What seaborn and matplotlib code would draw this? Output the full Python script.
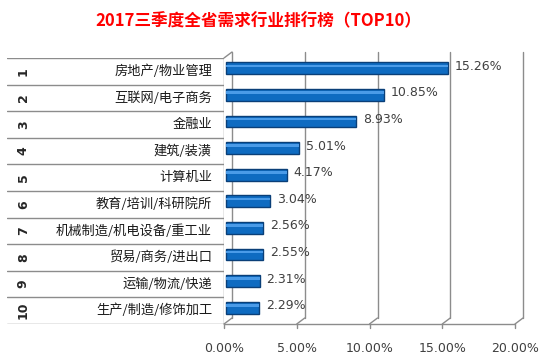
import matplotlib
matplotlib.use("Agg")
import matplotlib.pyplot as plt
import matplotlib.transforms as mtransforms
import pandas as pd
import seaborn as sns

# data
ranks = ['1', '2', '3', '4', '5', '6', '7', '8', '9', '10']
industries = ['房地产/物业管理', '互联网/电子商务', '金融业', '建筑/装潢', '计算机业',
              '教育/培训/科研院所', '机械制造/机电设备/重工业', '贸易/商务/进出口',
              '运输/物流/快递', '生产/制造/修饰加工']
shares = [15.26, 10.85, 8.93, 5.01, 4.17, 3.04, 2.56, 2.55, 2.31, 2.29]
x_ticks = [0, 5, 10, 15, 20]

df = pd.DataFrame({'rank': ranks, 'industry': industries, 'share': shares})

sns.set_theme(style='white')
plt.rcParams['font.family'] = ['Noto Sans CJK SC', 'DejaVu Sans']

W, H = 555, 358
grid_c = '#8C8C8C'
fig = plt.figure(figsize=(W / 100, H / 100), dpi=100)
fig.patch.set_facecolor('white')

bottom_px, top_px = 324, 58
ax_b = (H - bottom_px) / H
ax_h = (bottom_px - top_px) / H

# main plot area
ax = fig.add_axes([224 / W, ax_b, (515 - 224) / W, ax_h])
sns.barplot(data=df, x='share', y='industry', orient='h', ax=ax,
            color='#0E6BC1', edgecolor='#0A3F78', linewidth=1, width=0.44,
            saturation=1, zorder=3)
ax.set_xlim(0, 20)
ax.set_ylim(len(df) - 0.5, -0.5)
ax.set_xlabel('')
ax.set_ylabel('')
ax.set_yticks([])
ax.set_xticks(x_ticks)
ax.set_xticklabels(['%.2f%%' % t for t in x_ticks], fontsize=9, color='#404040',
                   family=['DejaVu Sans'])
ax.tick_params(axis='x', length=0, pad=13)
for s in ax.spines.values():
    s.set_visible(False)
ax.patch.set_alpha(0)

# lift bars a little (3D look) and add a highlight strip
lift = mtransforms.offset_copy(ax.transData, fig, x=2, y=3, units='dots')
for p in list(ax.patches):
    p.set_transform(lift)
    y0, h = p.get_y(), p.get_height()
    ax.barh(y0 + h * 0.3, p.get_width(), height=h * 0.22, left=0,
            color='#4A9BE8', linewidth=0, zorder=4, transform=lift)

# back wall grid (3D offset) and floor
back = mtransforms.offset_copy(ax.transData, fig, x=8, y=6, units='dots')
for t in x_ticks:
    ax.plot([t, t], [len(df) - 0.5, -0.5], color=grid_c, lw=1,
            transform=back, clip_on=False, zorder=0)
    x_disp, y_disp = ax.get_xaxis_transform().transform((t, 0))
    fig.add_artist(plt.Line2D([x_disp / W, (x_disp + 8) / W],
                              [y_disp / H, (y_disp + 6) / H],
                              transform=fig.transFigure, color=grid_c, lw=1))
    fig.add_artist(plt.Line2D([x_disp / W, x_disp / W],
                              [y_disp / H, (y_disp - 4) / H],
                              transform=fig.transFigure, color=grid_c, lw=1))
ax.plot([0, 20], [0, 0], color=grid_c, lw=1,
        transform=ax.get_xaxis_transform(), clip_on=False)

# value labels
lab = mtransforms.offset_copy(ax.transData, fig, x=9, y=5, units='dots')
for i, v in enumerate(shares):
    ax.text(v, i, '%.2f%%' % v, transform=lab, ha='left', va='center',
            fontsize=9, color='#404040', family=['DejaVu Sans'])

# table of rank and industry names on the left
tx = fig.add_axes([7 / W, ax_b, (224 - 7) / W, ax_h])
tx.set_xlim(0, 1)
tx.set_ylim(len(df), 0)
tx.axis('off')
for i in range(len(df) + 1):
    tx.axhline(i, color=grid_c, lw=1)
tx.axvline(1, color=grid_c, lw=1)
for i, (r, name) in enumerate(zip(ranks, industries)):
    tx.text(0.075, i + 0.5, r, rotation=90, ha='center', va='center',
            fontsize=9, fontweight='bold', color='#262626', family=['DejaVu Sans'])
    tx.text(0.945, i + 0.5, name, ha='right', va='center', fontsize=9.5,
            fontweight='medium', color='#1A1A1A')

# 3D top-left corner of the wall
fig.add_artist(plt.Line2D([224 / W, 232 / W], [(H - top_px) / H, (H - top_px + 6) / H],
                          transform=fig.transFigure, color=grid_c, lw=1))

fig.text(258 / W, (H - 21) / H, '2017三季度全省需求行业排行榜（TOP10）', ha='center',
         va='center', fontsize=12, fontweight='bold', color='#FF0000')

fig.savefig('out.png', dpi=100)
